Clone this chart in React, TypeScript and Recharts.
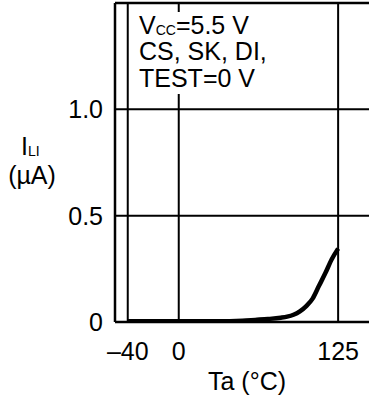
import React from 'react';
import { LineChart, Line, XAxis, YAxis, CartesianGrid, ReferenceLine } from 'recharts';

const temps = [-40, -20, 0, 20, 40, 50, 60, 70, 80, 85, 90, 95, 100, 105, 110, 115, 120, 125];
const leakage = [0.003, 0.003, 0.003, 0.003, 0.004, 0.006, 0.01, 0.014, 0.02, 0.025, 0.034, 0.05, 0.075, 0.11, 0.17, 0.23, 0.295, 0.345];
const xTicks = [-40, 0, 125];
const yTicks = [0, 0.5, 1.0];
const xDomain = [-50, 150];
const yDomain = [0, 1.5];

const data = temps.map((t, i) => ({ t, i: leakage[i] }));

const FONT = '"Liberation Sans", Arial, Helvetica, sans-serif';

const fmtX = (v: number) => (v < 0 ? '\u2013' + Math.abs(v) : String(v));
const fmtY = (v: number) => (v === 0 ? '0' : v.toFixed(1));

export default function App() {
  return (
    <div style={{ position: 'absolute', left: 0, top: 0, width: 369, height: 403, overflow: 'hidden', background: '#fff' }}>
      <LineChart width={372} height={403} data={data} margin={{ top: 3, right: 2, left: 0, bottom: 0 }}>
        <CartesianGrid stroke="#000" strokeWidth={2} />
        <XAxis
          type="number"
          dataKey="t"
          domain={xDomain}
          ticks={xTicks}
          interval={0}
          allowDataOverflow
          tickFormatter={fmtX}
          tickSize={0}
          tickMargin={20}
          height={81}
          axisLine={{ stroke: '#000', strokeWidth: 2.5 }}
          tickLine={false}
          tick={{ fill: '#000', fontSize: 25, fontFamily: FONT }}
        />
        <YAxis
          type="number"
          domain={yDomain}
          ticks={yTicks}
          interval={0}
          allowDataOverflow
          tickFormatter={fmtY}
          tickSize={0}
          tickMargin={12}
          width={115}
          axisLine={{ stroke: '#000', strokeWidth: 2.5 }}
          tickLine={false}
          tick={{ fill: '#000', fontSize: 25, fontFamily: FONT }}
        />
        <ReferenceLine y={1.5} stroke="#000" strokeWidth={2.5} />
        <Line
          type="monotone"
          dataKey="i"
          stroke="#000"
          strokeWidth={4.5}
          dot={false}
          isAnimationActive={false}
        />
      </LineChart>
      <svg
        width={369}
        height={403}
        style={{ position: 'absolute', left: 0, top: 0, pointerEvents: 'none' }}
        fontFamily={FONT}
        fill="#000"
      >
        <rect x={134} y={12} width={146} height={82} fill="#fff" />
        <text x={139} y={34} fontSize={25}>
          V<tspan fontSize={14} dy={1}>CC</tspan>
          <tspan dy={-1}>=5.5 V</tspan>
        </text>
        <text x={139} y={60} fontSize={25}>CS, SK, DI,</text>
        <text x={139} y={87} fontSize={25}>TEST=0 V</text>
        <text x={21} y={155} fontSize={25}>
          I<tspan fontSize={14} dy={1}>LI</tspan>
        </text>
        <text x={32} y={184} fontSize={25} textAnchor="middle">(µA)</text>
        <text x={247} y={390} fontSize={25} textAnchor="middle">Ta (°C)</text>
      </svg>
    </div>
  );
}
